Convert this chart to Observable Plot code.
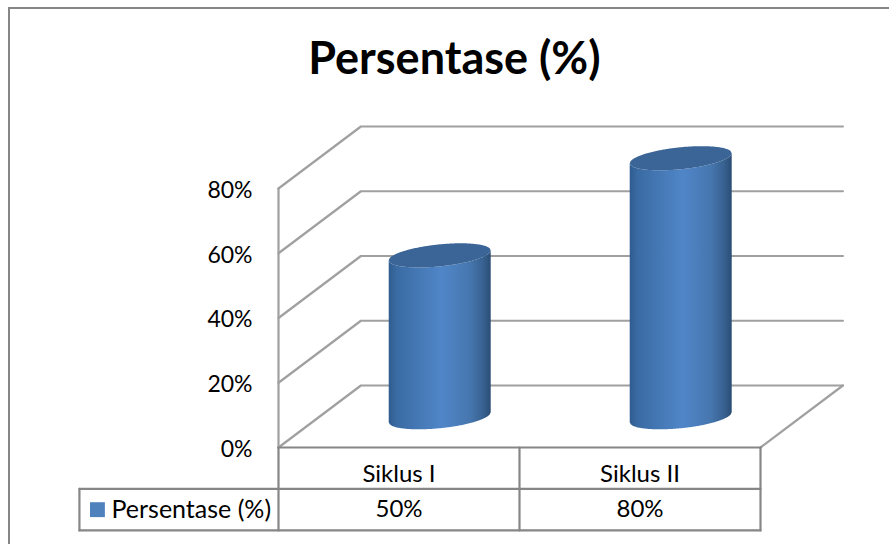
<!DOCTYPE html>
<html>
<head>
<meta charset="utf-8">
<script src="https://cdn.jsdelivr.net/npm/d3@7"></script>
<script src="https://cdn.jsdelivr.net/npm/@observablehq/plot@0.6"></script>
<style>
  html, body { margin: 0; padding: 0; background: #fff; overflow: hidden; }
  #chart { position: relative; width: 889px; height: 544px; }
  #chart svg { position: absolute; left: 0; top: 0; background: transparent; }
  #border { position: absolute; left: 8px; top: 7px; right: -4px; bottom: -4px; border: 2px solid #868686; }
</style>
</head>
<body>
<div id="chart"><div id="border"></div></div>
<script>
const categories = ["Siklus I", "Siklus II"];
const values = [50, 80];
const yTicks = [0, 20, 40, 60, 80];
const seriesName = "Persentase (%)";
const titleText = "Persentase (%)";

const font = "Lato, 'Open Sans', sans-serif";
const gridColor = "#a0a0a0";
const tableColor = "#868686";

// oblique projection of the 3D box, in data units
const depthX = 0.342, depthY = 19.15;
const barDepthX = 0.5, barDepthY = 0.48;
const rx = 0.2116, ry = 3.4, tilt = 1.54;
const rowH = 12.8;
const row1 = -rowH, row2 = -2 * rowH;
const keyLeft = -0.826;

// cylinder outline samples
const steps = d3.range(-1, 1.0001, 0.02);
const cylinders = categories.flatMap((c, i) => steps.map(u => {
  const cx = i + 0.5 + barDepthX * depthX;
  const base = barDepthY * depthY;
  const h = ry * Math.sqrt(Math.max(0, 1 - u * u));
  return {
    c, x: cx + rx * u,
    baseLow: base + tilt * u - h,
    topLow: base + values[i] + tilt * u - h,
    topHigh: base + values[i] + tilt * u + h
  };
}));

const wall = yTicks.map(p => ({p, pts: [[0, p], [depthX, p + depthY], [2 + depthX, p + depthY]]}));
const segs = [];
wall.forEach(w => w.pts.forEach(([x, y]) => segs.push({k: "w" + w.p, x, y})));
const addLine = (k, pts) => pts.forEach(([x, y]) => segs.push({k, x, y}));
addLine("leftwall", [[0, 0], [0, yTicks[4]]]);
addLine("floorR", [[2, 0], [2 + depthX, depthY]]);

const table = [];
const addT = (k, pts) => pts.forEach(([x, y]) => table.push({k, x, y}));
addT("r0", [[0, 0], [2, 0]]);
addT("r1", [[keyLeft, row1], [2, row1]]);
addT("r2", [[keyLeft, row2], [2, row2]]);
addT("v0", [[0, 0], [0, row2]]);
addT("v1", [[1, 0], [1, row2]]);
addT("v2", [[2, 0], [2, row2]]);
addT("v3", [[keyLeft, row1], [keyLeft, row2]]);

const defs = () => {
  const d = d3.create("svg:defs");
  const g = d.append("linearGradient").attr("id", "cyl").attr("x1", 0).attr("x2", 1).attr("y1", 0).attr("y2", 0);
  [[0, "#2f5c90"], [0.08, "#3a6ba3"], [0.52, "#5086c8"], [0.8, "#4676ae"], [0.93, "#37608f"], [1, "#2b4d74"]]
    .forEach(([o, c]) => g.append("stop").attr("offset", o).attr("stop-color", c));
  return d.node();
};

const plot = Plot.plot({
  width: 889, height: 544,
  marginLeft: 278, marginRight: 129, marginTop: 188, marginBottom: 97,
  x: {domain: [0, 2], axis: null},
  y: {domain: [0, 80], axis: null},
  style: {fontFamily: font, background: "transparent", color: "#000"},
  marks: [
    defs,
    Plot.line(segs, {x: "x", y: "y", z: "k", stroke: gridColor, strokeWidth: 2.2, curve: "linear"}),
    Plot.line(table, {x: "x", y: "y", z: "k", stroke: tableColor, strokeWidth: 2.2, curve: "linear"}),
    Plot.areaY(cylinders, {x: "x", y1: "baseLow", y2: "topLow", z: "c", fill: "url(#cyl)"}),
    Plot.areaY(cylinders, {x: "x", y1: "topLow", y2: "topHigh", z: "c", fill: "#3b6596"}),
    Plot.axisY({ticks: yTicks, tickSize: 0, tickPadding: 26, tickFormat: d => d + "%", fontSize: 23, dy: 2, label: null}),
    Plot.text(categories, {x: (d, i) => i + 0.5, y: row1 / 2 - 2, text: d => d, fontSize: 24, fill: "#000"}),
    Plot.text(values, {x: (d, i) => i + 0.5, y: row1 - rowH / 2, text: d => d + "%", fontSize: 24, fill: "#000"}),
    Plot.dot([seriesName], {x: keyLeft + 0.0747, y: row1 - rowH / 2, r: 8.4, symbol: "square", fill: "#4f81bd"}),
    Plot.text([seriesName], {x: keyLeft + 0.133, y: row1 - rowH / 2, text: d => d, textAnchor: "start", fontSize: 25, fill: "#000"}),
    Plot.text([titleText], {x: 0.73, y: 39.8 + 80, text: d => d, fontSize: 45, fontWeight: "bold", fill: "#000"})
  ]
});
document.getElementById("chart").appendChild(plot);
</script>
</body>
</html>
